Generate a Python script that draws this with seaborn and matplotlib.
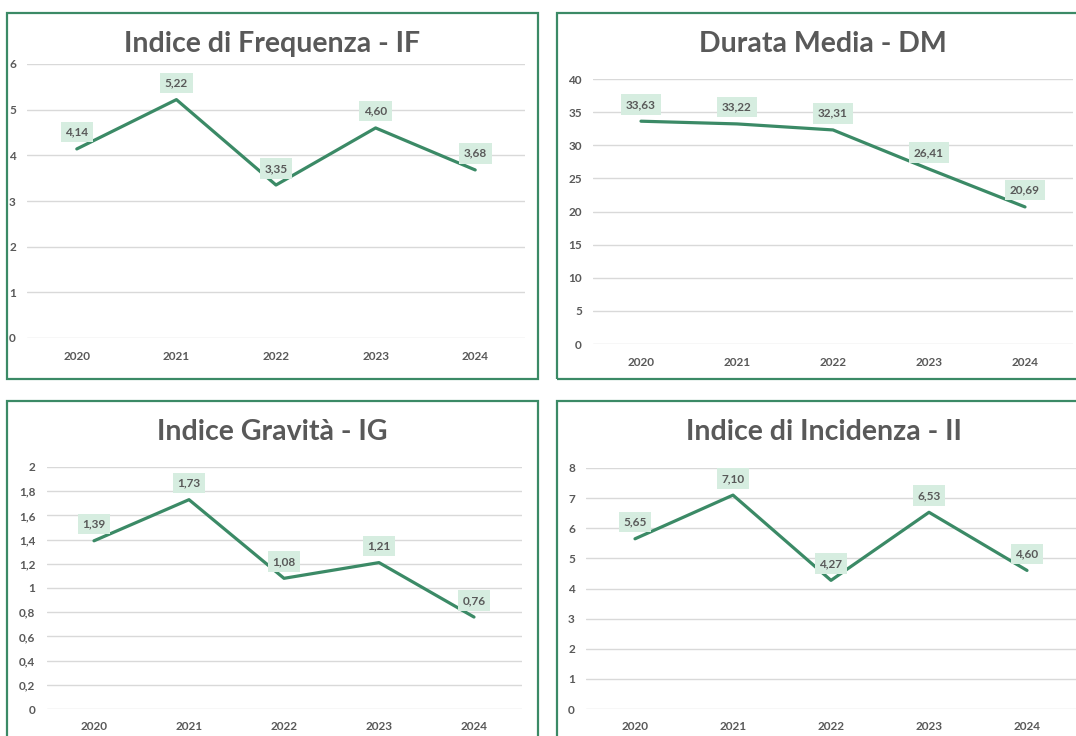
import matplotlib
matplotlib.use("Agg")
import matplotlib.pyplot as plt
import seaborn as sns
import pandas as pd
from matplotlib.patches import Rectangle

sns.set_theme(style="white")
plt.rcParams['font.family'] = ['Lato', 'DejaVu Sans']

years = ["2020", "2021", "2022", "2023", "2024"]
if_values = [4.14, 5.22, 3.35, 4.60, 3.68]
dm_values = [33.63, 33.22, 32.31, 26.41, 20.69]
ig_values = [1.39, 1.73, 1.08, 1.21, 0.76]
ii_values = [5.65, 7.10, 4.27, 6.53, 4.60]

titles = ["Indice di Frequenza - IF", "Durata Media - DM",
          "Indice Gravità - IG", "Indice di Incidenza - II"]
series = [if_values, dm_values, ig_values, ii_values]
yticks = [
    [0, 1, 2, 3, 4, 5, 6],
    [0, 5, 10, 15, 20, 25, 30, 35, 40],
    [0, 0.2, 0.4, 0.6, 0.8, 1.0, 1.2, 1.4, 1.6, 1.8, 2.0],
    [0, 1, 2, 3, 4, 5, 6, 7, 8],
]

W, H = 1076, 736
fig = plt.figure(figsize=(W / 100, H / 100), dpi=100)
fig.patch.set_facecolor("white")

GREEN = "#3b8a66"
BOX = "#d6ede0"
TXT = "#595959"
GRID = "#d9d9d9"

# pixel layouts: (left, right, top, bottom) for plot area
areas = [
    (27, 525, 64, 338),
    (593, 1073, 79, 344),
    (46.5, 521.5, 467, 709),
    (586, 1076, 468, 709),
]
panels = [
    (7, 538, 13, 379),
    (557, 1082, 13, 379),
    (7, 538, 401, 745),
    (557, 1082, 401, 745),
]
title_pos = [(272, 44), (823, 44), (272, 432), (824, 432)]


def fmt(v):
    return f"{v:.2f}".replace(".", ",")


def tick_fmt(v):
    if abs(v - round(v)) < 1e-9:
        return str(int(round(v)))
    return f"{v:.1f}".replace(".", ",")


for i in range(4):
    l, r, t, b = panels[i]
    fig.patches.append(Rectangle((l / W, 1 - b / H), (r - l) / W, (b - t) / H,
                                 transform=fig.transFigure, fill=False,
                                 edgecolor=GREEN, linewidth=1.6, zorder=0))
    al, ar, at, ab = areas[i]
    ax = fig.add_axes([al / W, 1 - ab / H, (ar - al) / W, (ab - at) / H])
    ax.set_facecolor("none")
    df = pd.DataFrame({"year": years, "value": series[i]})
    sns.lineplot(data=df, x="year", y="value", ax=ax, color=GREEN,
                 linewidth=2.3, sort=False, zorder=3)
    ax.set_xlim(-0.5, len(years) - 0.5)
    ax.set_ylim(yticks[i][0], yticks[i][-1])
    ax.set_yticks(yticks[i])
    ax.set_yticklabels([tick_fmt(v) for v in yticks[i]])
    ax.set_xlabel("")
    ax.set_ylabel("")
    ax.grid(axis="y", color=GRID, linewidth=1.0)
    ax.grid(axis="x", visible=False)
    ax.set_axisbelow(True)
    for s in ax.spines.values():
        s.set_visible(False)
    ax.tick_params(axis="both", length=0, labelsize=8.5, labelcolor=TXT)
    ax.tick_params(axis="y", pad=8)
    ax.tick_params(axis="x", pad=9)
    for lab in ax.get_xticklabels() + ax.get_yticklabels():
        lab.set_fontweight("bold")
    for j, v in enumerate(series[i]):
        ax.annotate(fmt(v), xy=(j, v), xytext=(0, 12), textcoords="offset points",
                    ha="center", va="center", fontsize=8.5, fontweight="bold",
                    color=TXT, zorder=5,
                    bbox=dict(boxstyle="square,pad=0.4", facecolor=BOX,
                              edgecolor="none"))
    tx, ty = title_pos[i]
    fig.text(tx / W, 1 - ty / H, titles[i], ha="center", va="center",
             fontsize=20.5, fontweight="bold", color=TXT)

fig.savefig("out.png", dpi=100, facecolor="white")
